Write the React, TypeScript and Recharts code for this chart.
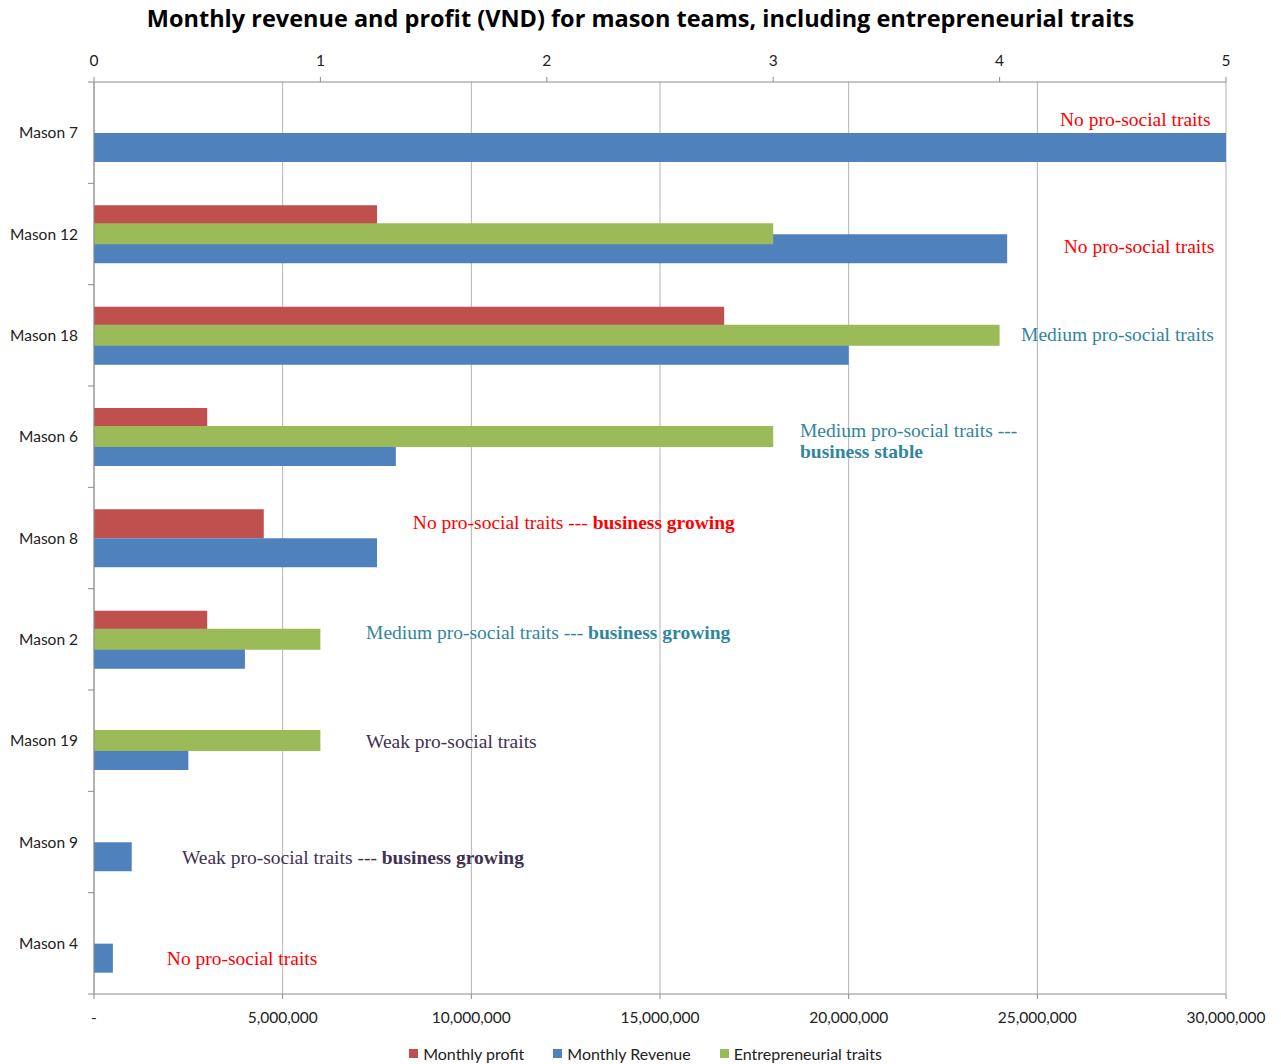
import { BarChart, Bar, XAxis, YAxis, CartesianGrid, Legend, ReferenceDot } from 'recharts'

const masons = ['Mason 7', 'Mason 12', 'Mason 18', 'Mason 6', 'Mason 8', 'Mason 2', 'Mason 19', 'Mason 9', 'Mason 4']
const monthlyProfit = [null, 7500000, 16700000, 3000000, 4500000, 3000000, null, null, null]
const monthlyRevenue = [30000000, 24200000, 20000000, 8000000, 7500000, 4000000, 2500000, 1000000, 500000]
const traitScores = [null, 3, 4, 3, null, 1, 1, null, null]

const revenueTicks = [0, 5000000, 10000000, 15000000, 20000000, 25000000, 30000000]
const traitTicks = [0, 1, 2, 3, 4, 5]
const seriesNames = ['Monthly profit', 'Monthly Revenue', 'Entrepreneurial traits']

const RED = '#FF0000'
const TEAL = '#31859C'
const PURPLE = '#403152'

// free-text notes beside each team: x in VND, shift = baseline offset from the row centre
const notes = [
  { mason: 'Mason 7', at: 25600000, shift: -6.7, color: RED, lines: [[['No pro-social traits', false]]] },
  { mason: 'Mason 12', at: 25700000, shift: 19.3, color: RED, lines: [[['No pro-social traits', false]]] },
  { mason: 'Mason 18', at: 24570000, shift: 5.7, color: TEAL, lines: [[['Medium pro-social traits', false]]] },
  {
    mason: 'Mason 6', at: 18710000, shift: 0, color: TEAL,
    lines: [[['Medium pro-social traits ---', false]], [['business stable', true]]],
  },
  {
    mason: 'Mason 8', at: 8450000, shift: -9.5, color: RED,
    lines: [[['No pro-social traits --- ', false], ['business growing', true]]],
  },
  {
    mason: 'Mason 2', at: 7210000, shift: -0.8, color: TEAL,
    lines: [[['Medium pro-social traits --- ', false], ['business growing', true]]],
  },
  { mason: 'Mason 19', at: 7210000, shift: 7.8, color: PURPLE, lines: [[['Weak pro-social traits', false]]] },
  {
    mason: 'Mason 9', at: 2330000, shift: 21.5, color: PURPLE,
    lines: [[['Weak pro-social traits --- ', false], ['business growing', true]]],
  },
  { mason: 'Mason 4', at: 1930000, shift: 21.2, color: RED, lines: [[['No pro-social traits', false]]] },
]

const rows = masons.map((name, i) => ({
  name,
  profit: monthlyProfit[i],
  revenue: monthlyRevenue[i],
  traits: traitScores[i],
}))

const W = 1281
const H = 1064
const TOP = 82
const BOTTOM = 70
const BAND = (H - TOP - BOTTOM) / masons.length
const TICK_SIZE = 6
const TICK_MARGIN = 10
const SANS = 'Lato, "Open Sans", sans-serif'
const SERIF = '"Liberation Serif", "Times New Roman", serif'
const AXIS_GREY = '#8C8C8C'

const fmtRevenue = (v: number) => (v === 0 ? '-' : v.toLocaleString('en-US'))

function MasonTick({ x, y, payload, index }: any) {
  const lx = x + TICK_MARGIN
  return (
    <g>
      <text x={x} y={y} dy="0.36em" textAnchor="end" fill="#222" fontSize={15.5} fontFamily={SANS}>
        {payload.value}
      </text>
      {index === 0 && (
        <line x1={lx} x2={lx + TICK_SIZE} y1={y - BAND / 2} y2={y - BAND / 2} stroke={AXIS_GREY} />
      )}
      <line x1={lx} x2={lx + TICK_SIZE} y1={y + BAND / 2} y2={y + BAND / 2} stroke={AXIS_GREY} />
    </g>
  )
}

function noteShape(note: (typeof notes)[number]) {
  return ({ cx, cy }: any) => (
    <text x={cx} y={cy + note.shift} fill={note.color} fontSize={19.5} fontFamily={SERIF}>
      {note.lines.map((line, li) => (
        <tspan key={li} x={cx} dy={li === 0 ? 0 : 21}>
          {line.map(([t, bold], si) => (
            <tspan key={si} fontWeight={bold ? 'bold' : 'normal'}>
              {t as string}
            </tspan>
          ))}
        </tspan>
      ))}
    </text>
  )
}

// legend keeps the series order profit, revenue, traits
function LegendRow({ payload }: any) {
  const items = [...(payload || [])].sort(
    (a: any, b: any) => seriesNames.indexOf(a.value) - seriesNames.indexOf(b.value),
  )
  return (
    <div
      style={{
        display: 'flex',
        justifyContent: 'center',
        gap: 29,
        paddingLeft: 10,
        paddingTop: 10,
        fontFamily: SANS,
        fontSize: 16,
        color: '#222',
      }}
    >
      {items.map((item: any) => (
        <span key={item.value} style={{ display: 'flex', alignItems: 'center' }}>
          <span style={{ width: 9, height: 9, background: item.color, marginRight: 5 }} />
          {item.value}
        </span>
      ))}
    </div>
  )
}

export default function App() {
  return (
    <div style={{ position: 'absolute', left: 0, top: 0, width: W, height: H, background: '#fff' }}>
      <div
        style={{
          position: 'absolute',
          top: 7,
          left: 0,
          width: W,
          textAlign: 'center',
          fontFamily: '"Open Sans", Lato, sans-serif',
          fontWeight: 'bold',
          fontSize: 23.5,
          lineHeight: 1,
          color: '#000',
          zIndex: 1,
        }}
      >
        Monthly revenue and profit (VND) for mason teams, including entrepreneurial traits
      </div>
      <BarChart
        width={W}
        height={H}
        data={rows}
        layout="vertical"
        barGap={0}
        margin={{ top: TOP - 40, right: 55, bottom: 0, left: 0 }}
      >
        <CartesianGrid xAxisId="bottom" yAxisId="main" horizontal={false} stroke="#B3B3B3" />
        <XAxis
          xAxisId="bottom"
          type="number"
          orientation="bottom"
          domain={[0, 30000000]}
          ticks={revenueTicks}
          tickFormatter={fmtRevenue}
          height={40}
          tickSize={5}
          tickMargin={13}
          stroke={AXIS_GREY}
          tick={{ fill: '#222', fontSize: 15.5, fontFamily: SANS }}
          allowDataOverflow
        />
        <XAxis
          xAxisId="top"
          type="number"
          orientation="top"
          domain={[0, 5]}
          ticks={traitTicks}
          height={40}
          tickSize={5}
          tickMargin={11}
          stroke={AXIS_GREY}
          tick={{ fill: '#222', fontSize: 15.5, fontFamily: SANS }}
          allowDataOverflow
        />
        <YAxis
          yAxisId="main"
          type="category"
          dataKey="name"
          width={94}
          tickLine={false}
          tickSize={TICK_SIZE}
          tickMargin={TICK_MARGIN}
          stroke={AXIS_GREY}
          tick={<MasonTick />}
          interval={0}
        />
        <YAxis yAxisId="traits" type="category" dataKey="name" hide />
        <Legend
          verticalAlign="bottom"
          height={30}
          content={<LegendRow />}
          wrapperStyle={{ left: 0, width: W, bottom: 0 }}
        />
        <Bar
          xAxisId="bottom"
          yAxisId="main"
          dataKey="profit"
          name="Monthly profit"
          fill="#C0504D"
          barSize={29}
          isAnimationActive={false}
        />
        <Bar
          xAxisId="bottom"
          yAxisId="main"
          dataKey="revenue"
          name="Monthly Revenue"
          fill="#4F81BD"
          barSize={29}
          isAnimationActive={false}
        />
        <Bar
          xAxisId="top"
          yAxisId="traits"
          dataKey="traits"
          name="Entrepreneurial traits"
          fill="#9BBB59"
          barSize={21}
          isAnimationActive={false}
        />
        {notes.map((note) => (
          <ReferenceDot
            key={note.mason}
            xAxisId="bottom"
            yAxisId="main"
            x={note.at}
            y={note.mason}
            r={1}
            ifOverflow="visible"
            shape={noteShape(note)}
          />
        ))}
      </BarChart>
    </div>
  )
}
